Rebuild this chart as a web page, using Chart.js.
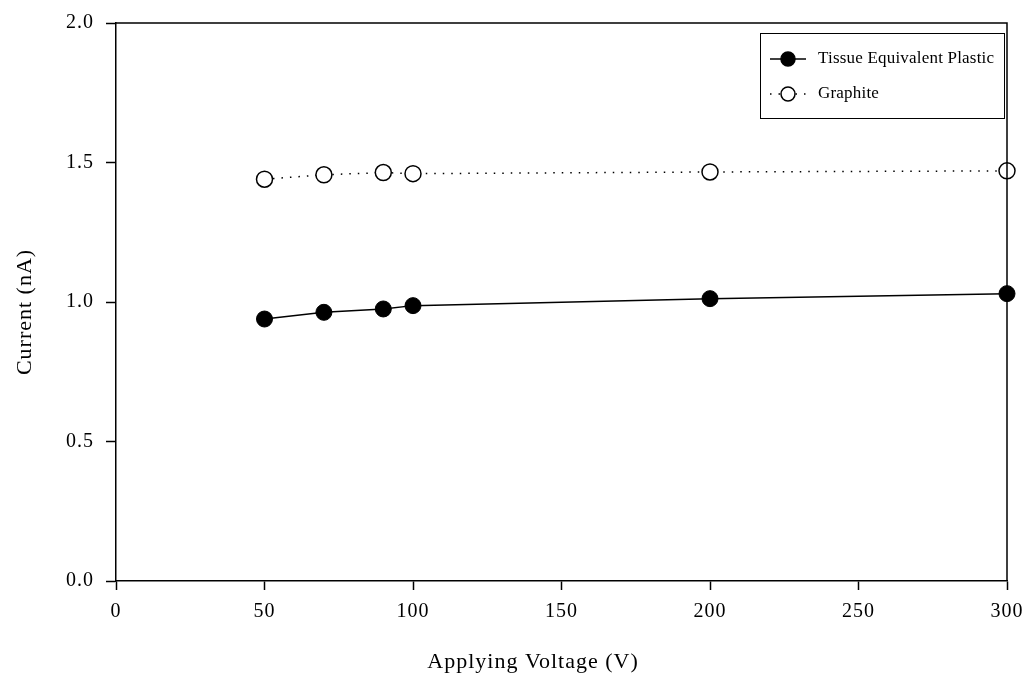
<!DOCTYPE html>
<html>
<head>
<meta charset="utf-8">
<script src="https://cdn.jsdelivr.net/npm/chart.js@4"></script>
<style>
  html, body { margin: 0; padding: 0; background: #fff; }
  #wrap { width: 1026px; height: 677px; }
</style>
</head>
<body>
<div id="wrap"><canvas id="graficoCorriente"></canvas></div>
<script>
const voltajes = [50, 70, 90, 100, 200, 300];
const plasticoTE = [0.939, 0.963, 0.975, 0.987, 1.012, 1.030];
const grafito = [1.440, 1.456, 1.464, 1.460, 1.466, 1.470];
const ticksX = [0, 50, 100, 150, 200, 250, 300];
const ticksY = [0.0, 0.5, 1.0, 1.5, 2.0];
const tituloX = "Applying Voltage (V)";
const tituloY = "Current (nA)";

const fuente = "'Liberation Serif', 'Times New Roman', serif";

const puntos = (ys) => voltajes.map((v, i) => ({ x: v, y: ys[i] }));

// espaciado entre letras como en la figura original
const espaciado = {
  id: "espaciado",
  beforeInit(chart) { chart.ctx.letterSpacing = "1px"; },
  beforeDraw(chart) { chart.ctx.letterSpacing = "1px"; },
};

// marco superior/derecho, titulos de ejes y leyenda dentro del area
const marcoYLeyenda = {
  id: "marcoYLeyenda",
  afterDraw(chart) {
    const { ctx, chartArea: a } = chart;
    ctx.save();
    ctx.strokeStyle = "#000";
    ctx.lineWidth = 1.5;
    ctx.beginPath();
    ctx.moveTo(a.left, a.top);
    ctx.lineTo(a.right, a.top);
    ctx.lineTo(a.right, a.bottom);
    ctx.stroke();

    ctx.fillStyle = "#000";
    ctx.font = "22px " + fuente;
    ctx.textAlign = "center";
    ctx.textBaseline = "middle";
    ctx.fillText(tituloX, 533, 662);
    ctx.save();
    ctx.translate(25, 312);
    ctx.rotate(-Math.PI / 2);
    ctx.fillText(tituloY, 0, 0);
    ctx.restore();

    const bx = 760, by = 33, bw = 244, bh = 85;
    ctx.lineWidth = 1;
    ctx.strokeRect(bx + 0.5, by + 0.5, bw, bh);

    ctx.textAlign = "left";
    ctx.letterSpacing = "0.2px";
    chart.data.datasets.forEach((ds, i) => {
      const y = 59 + i * 35;
      ctx.beginPath();
      ctx.setLineDash(ds.borderDash || []);
      ctx.lineWidth = ds.borderWidth;
      ctx.moveTo(770, y);
      ctx.lineTo(806, y);
      ctx.stroke();
      ctx.setLineDash([]);
      ctx.beginPath();
      ctx.arc(788, y, 7, 0, Math.PI * 2);
      ctx.fillStyle = ds.pointBackgroundColor;
      ctx.fill();
      ctx.lineWidth = 1.5;
      ctx.stroke();
      ctx.fillStyle = "#000";
      ctx.font = "17px " + fuente;
      ctx.fillText(ds.label, 818, y);
    });
    ctx.restore();
  },
};

const ctxCorriente = document.getElementById("graficoCorriente");

new Chart(ctxCorriente, {
  type: "line",
  data: {
    datasets: [
      {
        label: "Tissue Equivalent Plastic",
        data: puntos(plasticoTE),
        borderColor: "#000",
        borderWidth: 1.5,
        pointRadius: 8,
        pointBackgroundColor: "#000",
        pointBorderColor: "#000",
        pointBorderWidth: 1,
      },
      {
        label: "Graphite",
        data: puntos(grafito),
        borderColor: "#000",
        borderWidth: 1.5,
        borderDash: [1.5, 7],
        pointRadius: 8,
        pointBackgroundColor: "#fff",
        pointBorderColor: "#000",
        pointBorderWidth: 1.5,
      },
    ],
  },
  options: {
    responsive: true,
    maintainAspectRatio: false,
    animation: false,
    clip: false,
    layout: { padding: { top: 23, right: 19, left: 0, bottom: 0 } },
    plugins: {
      legend: { display: false },
      tooltip: { enabled: false },
    },
    scales: {
      x: {
        type: "linear",
        min: 0,
        max: 300,
        afterBuildTicks: (s) => { s.ticks = ticksX.map((v) => ({ value: v })); },
        afterFit: (s) => { s.height = 96; s.paddingLeft = 0; s.paddingRight = 0; },
        ticks: { color: "#000", font: { family: fuente, size: 20 }, padding: 10, maxRotation: 0 },
        grid: { drawOnChartArea: false, tickLength: 9, tickColor: "#000", tickWidth: 1.5 },
        border: { color: "#000", width: 1.5 },
      },
      y: {
        min: 0,
        max: 2,
        afterBuildTicks: (s) => { s.ticks = ticksY.map((v) => ({ value: v })); },
        afterFit: (s) => { s.width = 116; s.paddingTop = 0; s.paddingBottom = 0; },
        ticks: { color: "#000", font: { family: fuente, size: 20 }, padding: 12, callback: (v) => Number(v).toFixed(1) },
        grid: { drawOnChartArea: false, tickLength: 10, tickColor: "#000", tickWidth: 1.5 },
        border: { color: "#000", width: 1.5 },
      },
    },
  },
  plugins: [espaciado, marcoYLeyenda],
});
</script>
</body>
</html>
